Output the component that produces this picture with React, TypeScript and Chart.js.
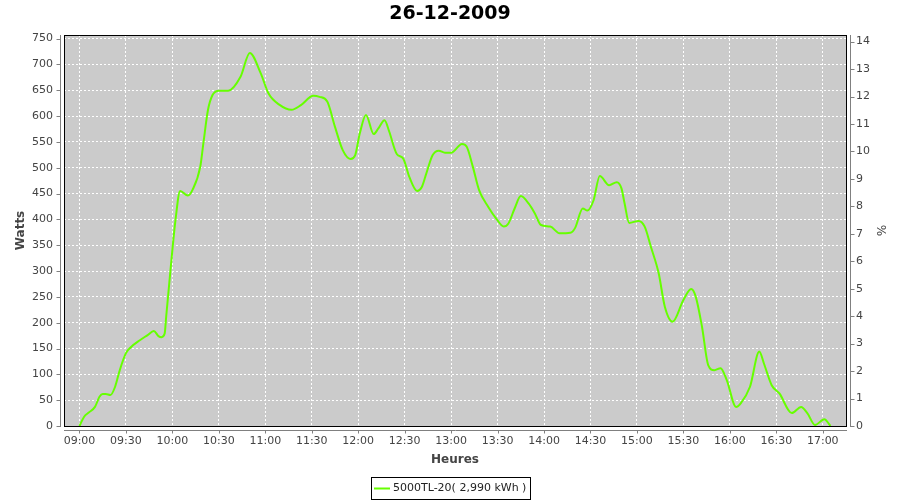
import { useEffect, useRef } from "react";
import { Chart, registerables } from "chart.js";

Chart.register(...registerables);

const chartTitle = "26-12-2009";
const seriesLabel = "5000TL-20( 2,990 kWh )";
const xAxisTitle = "Heures";
const yAxisTitle = "Watts";
const y2AxisTitle = "%";

const times = [
  "09:00", "09:03", "09:06", "09:10", "09:13", "09:15", "09:17", "09:20", "09:23", "09:26",
  "09:30", "09:33", "09:39", "09:44", "09:48", "09:51", "09:53", "09:55", "09:56", "09:58",
  "10:00", "10:02", "10:05", "10:10", "10:13", "10:18", "10:20", "10:23", "10:26", "10:30",
  "10:36", "10:44", "10:50", "10:57", "11:02", "11:09", "11:17", "11:23", "11:31", "11:35",
  "11:40", "11:45", "11:50", "11:55", "11:58", "12:01", "12:05", "12:10", "12:13", "12:17",
  "12:20", "12:25", "12:29", "12:33", "12:38", "12:41", "12:44", "12:48", "12:52", "12:56",
  "13:00", "13:07", "13:10", "13:14", "13:18", "13:24", "13:29", "13:34", "13:37", "13:41",
  "13:45", "13:50", "13:54", "13:58", "14:04", "14:10", "14:17", "14:20", "14:25", "14:28",
  "14:32", "14:36", "14:42", "14:47", "14:50", "14:52", "14:55", "15:01", "15:05", "15:09",
  "15:14", "15:18", "15:23", "15:30", "15:35", "15:38", "15:42", "15:46", "15:50", "15:54",
  "15:58", "16:04", "16:07", "16:13", "16:19", "16:22", "16:27", "16:32", "16:40", "16:46",
  "16:50", "16:55", "17:01", "17:05",
];

const watts = [
  0, 18, 26, 37, 57, 62, 62, 60, 76, 108,
  141, 152, 166, 176, 184, 174, 172, 179, 212, 277,
  341, 399, 455, 446, 457, 502, 547, 612, 641, 649,
  649, 676, 722, 683, 644, 622, 612, 621, 639, 637,
  628, 579, 534, 517, 524, 566, 602, 565, 576, 592,
  570, 526, 518, 482, 455, 462, 489, 524, 533, 529,
  529, 546, 541, 502, 457, 424, 402, 386, 392, 421,
  445, 431, 412, 389, 386, 373, 374, 383, 421, 417,
  437, 484, 466, 472, 460, 431, 393, 397, 386, 347,
  296, 231, 202, 244, 265, 250, 192, 118, 108, 112,
  89, 37, 44, 76, 144, 121, 79, 63, 25, 37,
  25, 2, 13, 0,
];

const xTickLabels = [
  "09:00", "09:30", "10:00", "10:30", "11:00", "11:30", "12:00", "12:30", "13:00",
  "13:30", "14:00", "14:30", "15:00", "15:30", "16:00", "16:30", "17:00",
];
const wattTicks = [0, 50, 100, 150, 200, 250, 300, 350, 400, 450, 500, 550, 600, 650, 700, 750];
const percentTicks = [0, 1, 2, 3, 4, 5, 6, 7, 8, 9, 10, 11, 12, 13, 14];

const toMin = (s: string) => {
  const [h, m] = s.split(":").map(Number);
  return h * 60 + m;
};
const fmtMin = (v: number) => {
  const h = Math.floor(v / 60);
  const m = Math.round(v - h * 60);
  return `${String(h).padStart(2, "0")}:${String(m).padStart(2, "0")}`;
};

const FONT = "DejaVu Sans";
const TICK_COLOR = "#444444";
const LINE_COLOR = "#66ff00";

const decor = {
  id: "decor",
  beforeDraw(chart: any) {
    const { ctx, chartArea: a } = chart;
    ctx.save();
    ctx.fillStyle = "#cbcbcb";
    ctx.fillRect(a.left, a.top, a.right - a.left, a.bottom - a.top);
    ctx.restore();
  },
  afterDraw(chart: any) {
    const { ctx, chartArea: a, scales } = chart;
    ctx.save();
    // plot outline
    ctx.strokeStyle = "#000000";
    ctx.lineWidth = 1;
    ctx.strokeRect(a.left + 0.5, a.top + 0.5, a.right - a.left, a.bottom - a.top);

    // axis lines and tick marks
    ctx.strokeStyle = "#808080";
    ctx.beginPath();
    const lx = a.left - 3.5;
    ctx.moveTo(lx, a.top);
    ctx.lineTo(lx, a.bottom + 1);
    scales.y.ticks.forEach((t: any) => {
      const py = Math.round(scales.y.getPixelForValue(t.value)) + 0.5;
      ctx.moveTo(lx - 4, py);
      ctx.lineTo(lx, py);
    });
    const rx = a.right + 4.5;
    ctx.moveTo(rx, a.top);
    ctx.lineTo(rx, a.bottom + 1);
    scales.y2.ticks.forEach((t: any) => {
      const py = Math.round(scales.y2.getPixelForValue(t.value)) + 0.5;
      ctx.moveTo(rx, py);
      ctx.lineTo(rx + 4, py);
    });
    const by = a.bottom + 4.5;
    ctx.moveTo(a.left, by);
    ctx.lineTo(a.right + 1, by);
    scales.x.ticks.forEach((t: any) => {
      const px = Math.round(scales.x.getPixelForValue(t.value)) + 0.5;
      ctx.moveTo(px, by);
      ctx.lineTo(px, by + 3);
    });
    ctx.stroke();

    // title
    ctx.fillStyle = "#000000";
    ctx.font = `bold 19px "${FONT}"`;
    ctx.textAlign = "center";
    ctx.textBaseline = "middle";
    ctx.fillText(chartTitle, chart.width / 2, 14);

    // legend
    ctx.font = `11px "${FONT}"`;
    const tw = ctx.measureText(seriesLabel).width;
    const bw = Math.round(tw + 26);
    const bh = 22;
    const bx = Math.round(chart.width / 2 - bw / 2);
    const byy = 477;
    ctx.strokeStyle = "#000000";
    ctx.lineWidth = 1;
    ctx.strokeRect(bx + 0.5, byy + 0.5, bw, bh);
    ctx.strokeStyle = LINE_COLOR;
    ctx.lineWidth = 2;
    ctx.beginPath();
    ctx.moveTo(bx + 3, byy + 11.5);
    ctx.lineTo(bx + 19, byy + 11.5);
    ctx.stroke();
    ctx.fillStyle = "#222222";
    ctx.textAlign = "left";
    ctx.textBaseline = "middle";
    ctx.fillText(seriesLabel, bx + 22, byy + 11.5);
    ctx.restore();
  },
};

export default function App() {
  const ref = useRef<HTMLCanvasElement | null>(null);

  useEffect(() => {
    if (!ref.current) return;
    Chart.defaults.font.family = FONT;
    const points = times.map((t, i) => ({ x: toMin(t), y: watts[i] }));
    const xTickVals = xTickLabels.map(toMin);
    const tickFont = { family: FONT, size: 11 };
    const titleFont = { family: FONT, size: 12, weight: "bold" as const };

    const chart = new Chart(ref.current, {
      type: "line",
      data: {
        datasets: [
          {
            label: seriesLabel,
            data: points,
            borderColor: LINE_COLOR,
            backgroundColor: LINE_COLOR,
            borderWidth: 2,
            pointRadius: 0,
            fill: false,
            cubicInterpolationMode: "monotone",
            yAxisID: "y",
          },
        ],
      },
      options: {
        animation: false,
        responsive: false,
        events: [],
        layout: { padding: { top: 35, left: 0, right: 0, bottom: 0 } },
        plugins: {
          legend: { display: false },
          tooltip: { enabled: false },
          title: { display: false },
        },
        scales: {
          x: {
            type: "linear",
            min: 530,
            max: 1035,
            afterBuildTicks: (s: any) => {
              s.ticks = xTickVals.map((v) => ({ value: v }));
            },
            afterFit: (s: any) => {
              s.height = 74;
            },
            ticks: {
              callback: (v: any) => fmtMin(Number(v)),
              font: tickFont,
              color: TICK_COLOR,
              padding: 9,
              maxRotation: 0,
              autoSkip: false,
            },
            grid: { color: "#ffffff", lineWidth: 1, drawTicks: false },
            border: { display: false, dash: [2, 2] },
            title: {
              display: true,
              text: xAxisTitle,
              font: titleFont,
              color: TICK_COLOR,
              padding: { top: 0, bottom: 33 },
            },
          },
          y: {
            type: "linear",
            position: "left",
            min: 0,
            max: 756.8,
            afterBuildTicks: (s: any) => {
              s.ticks = wattTicks.map((v) => ({ value: v }));
            },
            afterFit: (s: any) => {
              s.width = 64;
            },
            ticks: { font: tickFont, color: TICK_COLOR, padding: 11 },
            grid: { color: "#ffffff", lineWidth: 1, drawTicks: false },
            border: { display: false, dash: [2, 2] },
            title: {
              display: true,
              text: yAxisTitle,
              font: titleFont,
              color: TICK_COLOR,
              padding: { top: 14, bottom: 0 },
            },
          },
          y2: {
            type: "linear",
            position: "right",
            min: 0,
            max: 14.24,
            afterBuildTicks: (s: any) => {
              s.ticks = percentTicks.map((v) => ({ value: v }));
            },
            afterFit: (s: any) => {
              s.width = 54;
            },
            ticks: { font: tickFont, color: TICK_COLOR, padding: 10 },
            grid: { drawOnChartArea: false, drawTicks: false },
            border: { display: false },
            title: {
              display: true,
              text: y2AxisTitle,
              font: { family: FONT, size: 12 },
              color: TICK_COLOR,
              padding: { top: 13, bottom: 0 },
            },
          },
        },
      },
      plugins: [decor],
    });
    return () => chart.destroy();
  }, []);

  return (
    <div style={{ position: "absolute", left: 0, top: 0, width: 900, height: 500, background: "#ffffff" }}>
      <canvas ref={ref} width={900} height={500} style={{ display: "block", width: 900, height: 500 }} />
    </div>
  );
}
